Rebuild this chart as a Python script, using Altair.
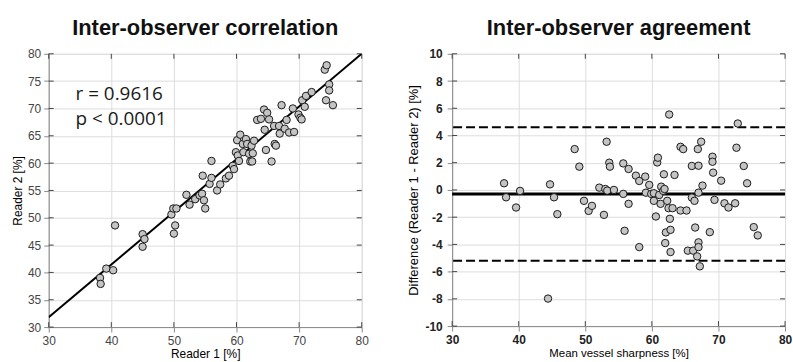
import altair as alt
import pandas as pd

# ---------------- data ----------------
reader1 = [38.2, 38.3, 39.2, 40.3, 40.6, 45.0, 45.3, 45.0, 49.6, 49.9, 50.4, 50.2, 50.0,
           52.0, 52.5, 53.4, 54.1, 54.6, 54.5, 54.8, 55.0, 55.7, 56.0, 56.0, 56.9, 57.4,
           58.3, 58.8, 59.4, 59.6, 59.9, 60.1, 60.2, 60.4, 60.6, 61.0, 61.1, 61.5, 61.7,
           62.0, 62.2, 62.5, 62.4, 62.6, 62.8, 63.3, 63.9, 64.4, 64.5, 64.7, 64.9, 65.2,
           65.6, 66.0, 66.1, 66.3, 66.8, 66.9, 67.2, 67.7, 68.0, 68.4, 69.2, 69.0, 69.9,
           70.2, 70.4, 70.5, 70.9, 71.1, 72.0, 74.1, 74.4, 74.3, 74.8, 74.8, 75.4]
reader2 = [39.0, 37.9, 40.7, 40.4, 48.6, 47.0, 46.1, 44.7, 50.6, 51.7, 51.7, 48.6, 47.1,
           54.2, 52.4, 53.4, 54.1, 57.7, 54.4, 53.2, 51.7, 56.2, 60.4, 57.3, 55.0, 56.1,
           57.2, 57.7, 59.5, 58.9, 62.0, 64.2, 61.4, 60.4, 65.2, 63.5, 62.0, 64.4, 63.5,
           61.7, 60.3, 60.3, 63.2, 61.8, 64.1, 67.9, 68.1, 69.8, 66.1, 62.4, 69.2, 68.0,
           60.3, 66.8, 63.5, 63.2, 66.8, 65.4, 70.6, 66.3, 67.9, 65.6, 65.7, 70.0, 68.9,
           68.3, 68.0, 71.5, 70.3, 72.3, 73.0, 77.1, 77.9, 71.5, 74.4, 73.3, 70.6]

fit_x = [30, 80]
fit_y = [31.8, 80.0]

annotation = ["r = 0.9616", "p < 0.0001"]

mean_sharp = [37.8, 38.1, 39.6, 40.2, 44.7, 44.4, 45.3, 45.8, 48.4, 49.1, 49.8, 50.5, 51.0,
              52.1, 52.8, 53.0, 53.2, 53.3, 53.6, 53.7, 54.3, 55.7, 55.7, 55.9, 56.5, 56.5,
              57.6, 58.1, 58.1, 59.0, 59.1, 59.6, 59.9, 60.3, 60.3, 60.6, 60.8, 60.9, 61.1,
              61.3, 61.4, 61.7, 61.8, 61.9, 62.0, 62.1, 62.3, 62.5, 62.6, 62.7, 62.8, 62.8,
              63.1, 63.4, 64.3, 64.7, 64.3, 65.2, 65.4, 66.0, 66.0, 66.2, 66.4, 66.5, 66.8,
              66.9, 67.0, 67.0, 67.0, 67.0, 67.2, 67.4, 67.6, 68.7, 69.1, 69.1, 69.2, 69.4,
              70.4, 70.9, 71.5, 72.5, 72.7, 72.9, 73.8, 74.3, 75.3, 75.9]
difference = [0.49, -0.54, -1.29, -0.07, 0.41, -7.98, -0.54, -1.78, 3.0, 1.71, -0.80, -1.54, -1.17,
              0.17, -1.83, 0.07, 3.54, -0.05, 2.0, 1.71, 0.0, 1.95, -0.29, -3.0, 1.54, -1.02,
              1.05, 0.66, -4.2, 0.98, -0.2, 0.37, -0.29, -0.24, -0.80, -1.95, 2.02, 2.37, -0.37,
              -1.02, 0.24, -0.07, 1.15, 0.07, -3.9, -3.12, -0.80, -1.34, 5.54, -2.12, -2.93, -4.56,
              -1.34, 1.10, 3.17, 3.0, -1.51, -1.51, -4.46, 1.76, -0.56, -4.46, -0.80, -2.76, -4.88,
              3.0, -0.2, 1.78, -3.85, -4.2, -5.61, 3.54, 0.32, -3.1, 2.44, 2.07, 1.27, -0.73,
              0.68, -0.98, -1.29, -0.98, 3.1, 4.88, 1.76, 0.49, -2.73, -3.34]

mean_diff = [-0.3]
limits = [4.6, -5.2]

x_ticks = [30, 40, 50, 60, 70, 80]
y_ticks_left = [30, 35, 40, 45, 50, 55, 60, 65, 70, 75, 80]
y_ticks_right = [-10, -8, -6, -4, -2, 0, 2, 4, 6, 8, 10]

# ---------------- helpers ----------------
W1, H1 = 315, 275
W2, H2 = 335, 274
TICK = 5
FRAME = "#444444"
LABEL_EXPR = "'' + datum.value"


def xenc(field, title, domain, right=False):
    return alt.X(field, type="quantitative", title=title,
                 scale=alt.Scale(domain=domain, nice=False, zero=False),
                 axis=alt.Axis(values=x_ticks, labelFontSize=12, labelExpr=LABEL_EXPR,
                               labelFlush=False, labelOverlap=False,
                               labelFontWeight="bold" if right else "normal",
                               labelColor="#222222" if right else "#444444",
                               titleFontSize=11.5 if right else 12, titleFontWeight="normal",
                               labelPadding=4, titlePadding=2))


def yenc(field, title, domain, values, right=False):
    return alt.Y(field, type="quantitative", title=title,
                 scale=alt.Scale(domain=domain, nice=False, zero=False),
                 axis=alt.Axis(values=values, labelFontSize=12, labelExpr=LABEL_EXPR,
                               labelFlush=False, labelOverlap=False,
                               labelFontWeight="bold" if right else "normal",
                               labelColor="#222222" if right else "#444444",
                               titleFontSize=13 if right else 12, titleFontWeight="normal",
                               labelPadding=5 if right else 3,
                               titlePadding=5 if right else 3))


def inward_ticks(xtitle, ytitle, xdom, ydom, yvals, w, h, right=False):
    xt = pd.DataFrame({"v": x_ticks})
    yt = pd.DataFrame({"v": yvals})
    layers = []
    for y0, y1 in [(0, TICK), (h, h - TICK)]:
        layers.append(alt.Chart(xt).mark_rule(color=FRAME, strokeWidth=1).encode(
            x=xenc("v", xtitle, xdom, right), y=alt.value(y0), y2=alt.value(y1)))
    for x0, x1 in [(0, TICK), (w, w - TICK)]:
        layers.append(alt.Chart(yt).mark_rule(color=FRAME, strokeWidth=1).encode(
            y=yenc("v", ytitle, ydom, yvals, right), x=alt.value(x0), x2=alt.value(x1)))
    return layers


def title(text):
    return alt.TitleParams(text, font="Liberation Sans", fontSize=22, fontWeight="bold",
                           anchor="middle", frame="group", offset=8, color="#111111")

# ---------------- left: correlation ----------------
df1 = pd.DataFrame({"r1": reader1, "r2": reader2})
fit = pd.DataFrame({"r1": fit_x, "r2": fit_y})
XT1, YT1 = "Reader 1 [%]", "Reader 2 [%]"
xd, yd1 = [30, 80], [30, 80]

line1 = alt.Chart(fit).mark_line(color="black", strokeWidth=2, clip=True).encode(
    x=xenc("r1", XT1, xd), y=yenc("r2", YT1, yd1, y_ticks_left))
pts1 = alt.Chart(df1).mark_point(shape="circle", filled=True, fill="#c4c4c4", stroke="#1a1a1a",
                                 strokeWidth=1, size=56, opacity=1).encode(
    x=xenc("r1", XT1, xd), y=yenc("r2", YT1, yd1, y_ticks_left))
txt = alt.Chart(pd.DataFrame({"t": [0]})).mark_text(
    align="left", baseline="alphabetic", font="Open Sans", fontSize=19,
    lineHeight=26, color="#1a1a1a").encode(
    x=alt.value(27), y=alt.value(46), text=alt.value(annotation))

left = alt.layer(*inward_ticks(XT1, YT1, xd, yd1, y_ticks_left, W1, H1),
                 line1, pts1, txt).properties(width=W1, height=H1,
                                               title=title("Inter-observer correlation"))

# ---------------- right: Bland-Altman ----------------
df2 = pd.DataFrame({"m": mean_sharp, "d": difference})
XT2, YT2 = "Mean vessel sharpness [%]", "Difference (Reader 1 - Reader 2) [%]"
yd2 = [-10, 10]

mean_rule = alt.Chart(pd.DataFrame({"d": mean_diff})).mark_rule(color="black", strokeWidth=3).encode(
    y=yenc("d", YT2, yd2, y_ticks_right, True))
loa_rule = alt.Chart(pd.DataFrame({"d": limits})).mark_rule(
    color="black", strokeWidth=2, strokeDash=[9, 4]).encode(
    y=yenc("d", YT2, yd2, y_ticks_right, True))
pts2 = alt.Chart(df2).mark_point(shape="circle", filled=True, fill="#c4c4c4", stroke="#1a1a1a",
                                 strokeWidth=1, size=56, opacity=1).encode(
    x=xenc("m", XT2, xd, True), y=yenc("d", YT2, yd2, y_ticks_right, True))

right = alt.layer(*inward_ticks(XT2, YT2, xd, yd2, y_ticks_right, W2, H2, True),
                  mean_rule, loa_rule, pts2).properties(width=W2, height=H2,
                                                        title=title("Inter-observer agreement"))

chart = alt.hconcat(left, right, spacing=37).properties(
    padding={"left": 11, "top": 15, "right": 0, "bottom": 0}
).configure_view(stroke=FRAME, strokeWidth=1.2).configure_axis(
    grid=False, ticks=False, domain=False,
    labelFont="Liberation Sans", titleFont="Liberation Sans",
    titleFontWeight="normal", titleColor="#333333"
).configure(background="white")

chart.save("out.html", embed_options={"renderer": "svg", "actions": False})
